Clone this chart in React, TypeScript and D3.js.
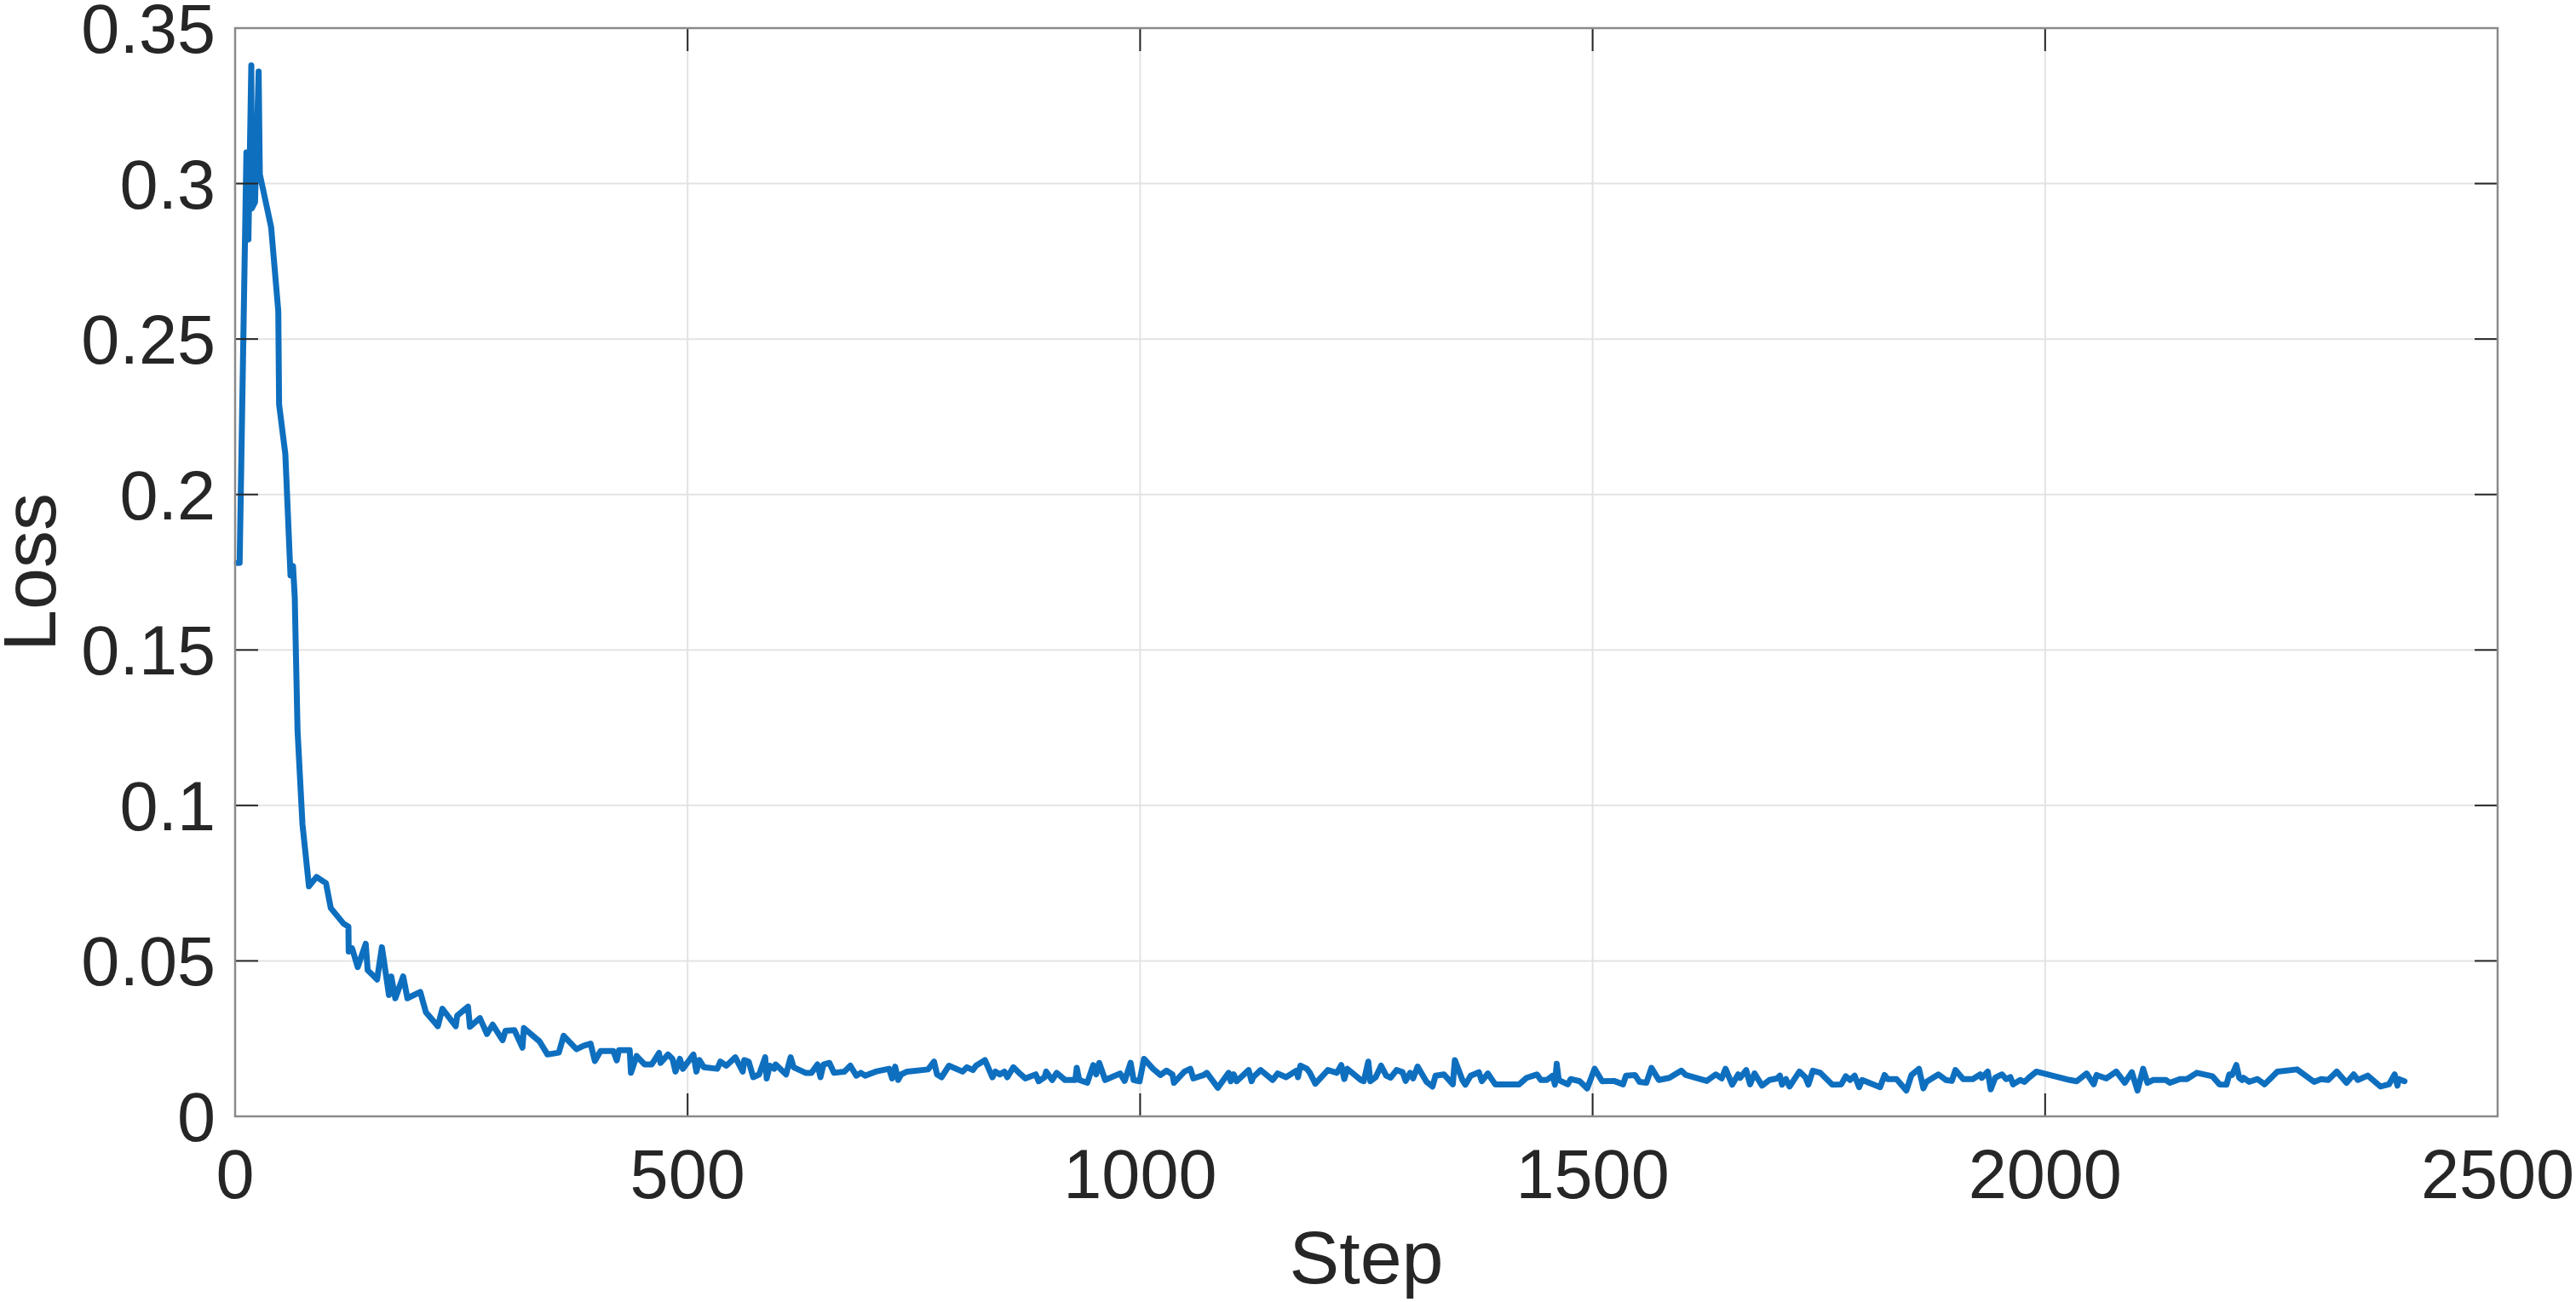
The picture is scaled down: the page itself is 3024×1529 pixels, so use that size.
import React from 'react';
import * as d3 from 'd3';

// ---- Data ----
const steps: number[] = [
  2, 5, 12.5, 14.7, 17.9, 18.5, 22, 26, 27.3, 39.8, 47.7, 48.6, 55.5, 61.2, 64,
  65.9, 67.1, 69, 74.4, 81.6, 90, 100.4, 105.7, 119.8, 125.2, 125.5, 129.3, 135.5, 144.3, 146.5,
  156.9, 162.2, 170, 172.5, 177, 185.7, 190.4, 204.6, 210.8, 224, 229, 243.8, 245.4, 257.3, 259.5,
  270.5, 278.3, 284.6, 295.6, 298.7, 308.7, 317.5, 319.1, 336.4, 345.2, 357.7, 363, 377.2, 385,
  392.8, 397.5, 403.8, 417.9, 421.7, 424.2, 436, 437.4, 443.6, 452.5,
  460.2, 463.5, 468.4, 470.1, 478.3, 483.3, 486.6, 491.5, 494.8, 506.4, 509.7, 513, 518, 532.8,
  536.2, 542.8, 552.7, 560.9, 562.6, 567.5, 572.5, 579.1, 585.7, 587.4, 590.7, 595.6, 597.3, 608.8,
  613.8, 617.1, 630.3, 636.9, 643.5, 646.8, 650.1, 656.7, 661.7, 673.2, 679.8, 686.4, 691.4, 696.3,
  707.9, 722.7, 726, 729.3, 732.6, 736, 742.6, 765.7, 772.3, 775.6, 780.6, 788.8, 803.7, 808.7,
  815.3, 818.6, 828.5, 836.8, 840.1, 845, 850, 853.3, 859.9, 868.1, 873.1, 884.6, 887.9, 894.5,
  896.2, 902.8, 907.8, 917,
  928.4, 930, 932.7, 941.6, 948.2, 951.5, 954.8, 961.4, 977.9, 982.9, 989.5, 992.8, 999.4, 1004.3,
  1014.2, 1022.5, 1029.1, 1035.7, 1037.4, 1049, 1055.5, 1058.8, 1070.4, 1073.7, 1085.9, 1097.8, 1100.1,
  1103.4, 1106.7, 1119.9, 1123.2, 1124.9, 1133.2, 1146.4, 1152, 1161.2, 1172.8, 1174.4, 1177.1, 1184.3,
  1187.6, 1193.6, 1207.5, 1217.4, 1222.3, 1225.6, 1228.9, 1243.8, 1247.1, 1252.1, 1254.4, 1260.3, 1266.3,
  1271.9, 1276.8, 1283.4, 1290, 1293.4, 1298.3, 1301.6, 1306.6, 1316.5, 1323.1, 1326.4, 1335.6, 1345.5,
  1347.8, 1356.1, 1359.4, 1365.3, 1374.3, 1377.6, 1384.2, 1392.4, 1418.9, 1427.1, 1434.7,
  1438.5, 1442.8, 1449.4, 1456, 1458.3, 1460.3, 1462.6, 1472.5, 1475.8, 1485.7, 1494, 1502.2, 1510.5,
  1523.7, 1533.6, 1536.9, 1546.8, 1551.8, 1559.4, 1565, 1573.2, 1584.8, 1598, 1603, 1626.1, 1636,
  1642.6, 1646.9, 1654.2, 1660.8, 1663.1, 1669.7, 1674, 1678.9, 1687.2, 1695.4, 1703.7, 1707, 1709.3,
  1713.6, 1717.6, 1728.5, 1735.1, 1738.4, 1743.3, 1751.6, 1764.8, 1774.7, 1779.7, 1784.6, 1789.5, 1794.5,
  1797.8, 1817.6, 1822.6, 1825.9, 1835.8, 1846.7, 1852.3, 1860.6, 1865.5, 1868.8, 1882.1, 1890.3, 1896.9,
  1900.9, 1909.5, 1920.1, 1928.3, 1930, 1936.6, 1939.9, 1944.8, 1952.4,
  1956.9, 1961.6, 1964.7, 1972.5, 1977.2, 1981.9, 1990.3, 2027.1, 2034.9, 2045.9, 2053.7, 2056.8, 2067.7,
  2078.6, 2088, 2095.8, 2102.1, 2108.3, 2113, 2119.2, 2133.3, 2138, 2148.9, 2156.7, 2167.6, 2184.8,
  2192.6, 2200.4, 2203.5, 2206.6, 2211.3, 2214.5, 2217.6, 2219.1, 2225.4, 2234.7, 2242.5, 2256.6, 2278.4,
  2297.2, 2305, 2312.8, 2322.2, 2333.1, 2340.9, 2345.6, 2356.5, 2370.5, 2379.9, 2386.2, 2389.3, 2390.8,
  2397.1,
];

const loss: number[] = [
  0.178, 0.178, 0.310, 0.282, 0.338, 0.292, 0.294, 0.336, 0.303, 0.286, 0.259, 0.229, 0.213, 0.174, 0.177,
  0.167, 0.150, 0.124, 0.094, 0.074, 0.077, 0.075, 0.067, 0.062, 0.061, 0.053, 0.054, 0.048, 0.0555, 0.047,
  0.044, 0.0544, 0.039, 0.045, 0.038, 0.045, 0.038, 0.040, 0.0335, 0.029, 0.0346, 0.029, 0.0324, 0.0353, 0.0288,
  0.0316, 0.0265, 0.0295, 0.0245, 0.0275, 0.0277, 0.0221, 0.0284, 0.0241, 0.0199, 0.0205, 0.0259, 0.0216, 0.0227,
  0.0234, 0.0178, 0.021, 0.021, 0.018, 0.0213, 0.0213, 0.014, 0.0194, 0.0167,
  0.0167, 0.0181, 0.0204, 0.0172, 0.0199, 0.0185, 0.0144, 0.0185, 0.0153, 0.0199, 0.0144, 0.0181, 0.0158, 0.0153,
  0.0176, 0.0163, 0.0190, 0.0144, 0.0181, 0.0176, 0.0126, 0.0135, 0.0190, 0.0122, 0.0163, 0.0153, 0.0167, 0.0135,
  0.0190, 0.0158, 0.0140, 0.0140, 0.0167, 0.0126, 0.0167, 0.0172, 0.0140, 0.0144, 0.0163, 0.0131, 0.0140, 0.0131,
  0.0144, 0.0153, 0.0122, 0.0160, 0.0117, 0.0135, 0.0144, 0.0151, 0.0176, 0.0135, 0.0126, 0.0163, 0.0144, 0.0158,
  0.0149, 0.0163, 0.0181, 0.0126, 0.0144, 0.0135, 0.0144, 0.0126, 0.0158, 0.0135, 0.0122, 0.0135, 0.0113, 0.0126,
  0.0144, 0.0117, 0.0140, 0.0117,
  0.0117, 0.0156, 0.0117, 0.0108, 0.0165, 0.0135, 0.0172, 0.0117, 0.0138, 0.0114, 0.0172, 0.0117, 0.0113, 0.0185,
  0.0153, 0.0133, 0.0147, 0.0135, 0.0108, 0.0144, 0.0153, 0.0122, 0.0133, 0.0140, 0.0092, 0.0140, 0.0113,
  0.0135, 0.0113, 0.0149, 0.0113, 0.0126, 0.0149, 0.0117, 0.0138, 0.0126, 0.0147, 0.0126, 0.0163, 0.0153,
  0.0140, 0.0105, 0.0149, 0.0140, 0.0165, 0.0120, 0.0153, 0.0117, 0.0113, 0.0176, 0.0113, 0.0126, 0.0163,
  0.0131, 0.0124, 0.0149, 0.0142, 0.0114, 0.0140, 0.0122, 0.0160, 0.0111, 0.0096, 0.0131, 0.0135, 0.0103,
  0.0181, 0.0117, 0.0102, 0.0131, 0.0142, 0.0113, 0.0138, 0.0103, 0.0103, 0.0124, 0.0131,
  0.0135, 0.0117, 0.0117, 0.0131, 0.0102, 0.0169, 0.0117, 0.0103, 0.0120, 0.0113, 0.0090, 0.0153, 0.0113,
  0.0114, 0.0103, 0.0131, 0.0133, 0.0111, 0.0108, 0.0156, 0.0117, 0.0124, 0.0147, 0.0133, 0.0114, 0.0135,
  0.0122, 0.0153, 0.0102, 0.0135, 0.0124, 0.0149, 0.0103, 0.0138, 0.0099, 0.0117, 0.0122, 0.0131, 0.0102,
  0.0120, 0.0096, 0.0144, 0.0126, 0.0102, 0.0147, 0.0140, 0.0102, 0.0103, 0.0129, 0.0117, 0.0131, 0.0094,
  0.0117, 0.0094, 0.0133, 0.0120, 0.0120, 0.0083, 0.0133, 0.0153, 0.0090, 0.0111, 0.0135, 0.0117, 0.0114,
  0.0149, 0.0120, 0.0120, 0.0135, 0.0124, 0.0144, 0.0087, 0.0124, 0.0135,
  0.0120, 0.0126, 0.0103, 0.0117, 0.0111, 0.0124, 0.0144, 0.0117, 0.0113, 0.0138, 0.0103, 0.0133, 0.0122,
  0.0144, 0.0108, 0.0142, 0.0083, 0.0153, 0.0108, 0.0117, 0.0117, 0.0108, 0.0120, 0.0120, 0.0140, 0.0129,
  0.0103, 0.0102, 0.0135, 0.0133, 0.0165, 0.0124, 0.0117, 0.0124, 0.0111, 0.0120, 0.0103, 0.0144, 0.0151,
  0.0111, 0.0120, 0.0117, 0.0144, 0.0108, 0.0135, 0.0117, 0.0131, 0.0096, 0.0103, 0.0135, 0.0099, 0.0120,
  0.0113,
];

const xTicks: number[] = [0, 500, 1000, 1500, 2000, 2500];
const xTickLabels: string[] = ['0', '500', '1000', '1500', '2000', '2500'];
const yTicks: number[] = [0, 0.05, 0.1, 0.15, 0.2, 0.25, 0.3, 0.35];
const yTickLabels: string[] = ['0', '0.05', '0.1', '0.15', '0.2', '0.25', '0.3', '0.35'];
const xLabel = 'Step';
const yLabel = 'Loss';

export default function App() {
  const W = 3024;
  const H = 1529;
  const L = 276, T = 33, R = 2932, B = 1311;
  const x = d3.scaleLinear().domain([0, 2500]).range([L, R]);
  const y = d3.scaleLinear().domain([0, 0.35]).range([B, T]);
  const pts: [number, number][] = steps.map((s, i) => [s, loss[i]]);
  const path = d3.line<[number, number]>().x(d => x(d[0])).y(d => y(d[1]))(pts) || '';
  const tickLen = 27;
  const font = '"Liberation Sans", Arial, Helvetica, sans-serif';
  const textColor = '#262626';

  return (
    <svg width={W} height={H} style={{ position: 'absolute', left: 0, top: 0, background: '#fff' }}
      xmlns="http://www.w3.org/2000/svg">
      <rect x={0} y={0} width={W} height={H} fill="#fff" />
      {/* grid */}
      {xTicks.map(t => (
        <line key={'gx' + t} x1={x(t)} x2={x(t)} y1={T} y2={B} stroke="#e3e3e3" strokeWidth={2} />
      ))}
      {yTicks.map(t => (
        <line key={'gy' + t} x1={L} x2={R} y1={y(t)} y2={y(t)} stroke="#e3e3e3" strokeWidth={2} />
      ))}
      {/* data line */}
      <path d={path} fill="none" stroke="#0f6fbf" strokeWidth={7} strokeLinejoin="round" strokeLinecap="round" />
      {/* ticks on all sides */}
      {xTicks.map(t => (
        <g key={'tx' + t}>
          <line x1={x(t)} x2={x(t)} y1={B} y2={B - tickLen} stroke={textColor} strokeWidth={2} />
          <line x1={x(t)} x2={x(t)} y1={T} y2={T + tickLen} stroke={textColor} strokeWidth={2} />
        </g>
      ))}
      {yTicks.map(t => (
        <g key={'ty' + t}>
          <line x1={L} x2={L + tickLen} y1={y(t)} y2={y(t)} stroke={textColor} strokeWidth={2} />
          <line x1={R} x2={R - tickLen} y1={y(t)} y2={y(t)} stroke={textColor} strokeWidth={2} />
        </g>
      ))}
      {/* frame */}
      <rect x={L} y={T} width={R - L} height={B - T} fill="none" stroke="#8a8a8a" strokeWidth={2.5} />
      {/* tick labels */}
      {xTicks.map((t, i) => (
        <text key={'lx' + t} x={x(t)} y={1407} textAnchor="middle" fontFamily={font} fontSize={81} fill={textColor}>
          {xTickLabels[i]}
        </text>
      ))}
      {yTicks.map((t, i) => (
        <text key={'ly' + t} x={253} y={y(t) + 29} textAnchor="end" fontFamily={font} fontSize={81} fill={textColor}>
          {yTickLabels[i]}
        </text>
      ))}
      {/* axis labels */}
      <text x={(L + R) / 2} y={1507} textAnchor="middle" fontFamily={font} fontSize={88} fill={textColor}>
        {xLabel}
      </text>
      <text transform={`translate(65, ${(T + B) / 2}) rotate(-90)`} textAnchor="middle" fontFamily={font}
        fontSize={88} fill={textColor}>
        {yLabel}
      </text>
    </svg>
  );
}
